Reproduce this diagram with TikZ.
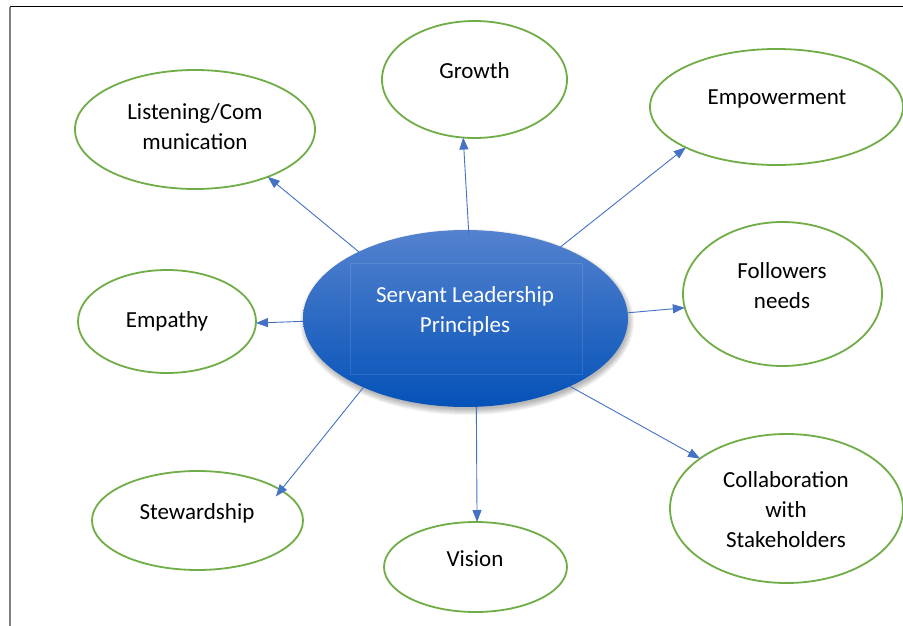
\documentclass[tikz,border=0pt]{standalone}
\usepackage{fontspec}
\setmainfont{Carlito}
\usetikzlibrary{shapes.geometric,arrows.meta}
\definecolor{leafgreen}{RGB}{112,173,71}
\definecolor{linkblue}{RGB}{68,114,196}
\definecolor{hubtop}{RGB}{84,130,207}
\definecolor{hubbottom}{RGB}{4,82,184}
\definecolor{framegray}{RGB}{128,128,128}
\begin{document}
\begin{tikzpicture}[x=1pt,y=-1pt,
  bubble/.style={ellipse, draw=leafgreen, line width=1.8pt, fill=white, inner sep=0pt, outer sep=0pt},
  caption/.style={font=\fontsize{23}{30}\selectfont, align=center, inner sep=0pt, text=black},
  link/.style={draw=linkblue, line width=0.9pt, -{Triangle[length=12pt,width=9pt]}}]
\useasboundingbox (0,0) rectangle (903,626);
\fill[white] (0,0) rectangle (903,626);

% page frame
\draw[black, line width=1pt] (10,7) -- (903,7);
\draw[framegray, line width=1.6pt] (10,7) -- (10,626);

% soft shadow under the hub
\foreach \i in {1,...,7}
  \fill[black, opacity=0.045] (467,322) ellipse [x radius={160pt+\i pt}, y radius={86pt+\i pt}];

% hub
\node[ellipse, minimum width=325pt, minimum height=177pt, inner sep=0pt, outer sep=0pt,
      top color=hubtop, bottom color=hubbottom] (hub) at (465.5,318.5) {};
\draw[white, opacity=0.12, line width=0.6pt] (350,263) rectangle (582,374);
\node[caption, text=white] (hub-t) at (465,311) {Servant Leadership\\Principles};

% principle bubbles
\node[bubble, minimum width=240pt, minimum height=119pt] (listen) at (195,129.5) {};
\node[bubble, minimum width=185pt, minimum height=117pt] (growth) at (474.5,79.5) {};
\node[bubble, minimum width=253pt, minimum height=116pt] (empower) at (776.5,107) {};
\node[bubble, minimum width=199pt, minimum height=144pt] (follow) at (782.5,294) {};
\node[bubble, minimum width=178pt, minimum height=103pt] (empathy) at (167,321.5) {};
\node[bubble, minimum width=211pt, minimum height=99pt] (steward) at (197.5,520.5) {};
\node[bubble, minimum width=183pt, minimum height=90pt] (vision) at (475.5,567) {};
\node[bubble, minimum width=233pt, minimum height=149pt] (collab) at (786.5,508.5) {};

\node[caption] (listen-t) at (195,126.5) {Listening/Com\\munication};
\node[caption] (growth-t) at (474.5,71) {Growth};
\node[caption] (empower-t) at (777,99) {Empowerment};
\node[caption] (follow-t) at (782,286) {Followers\\needs};
\node[caption] (empathy-t) at (167,321) {Empathy};
\node[caption] (steward-t) at (197,513) {Stewardship};
\node[caption] (vision-t) at (475,559) {Vision};
\node[caption] (collab-t) at (786,510) {Collaboration\\with\\Stakeholders};

% connectors
\draw[link] (hub.148.7) -- (listen.-33);
\draw[link, shorten <=-5pt] (hub.88.5) -- (growth.-101);
\draw[link] (hub.37.8) -- (empower.204.6);
\draw[link] (hub.2.3) -- (follow.188.3);
\draw[link] (hub.181.2) -- (empathy.-1);
\draw[link, shorten >=-8pt] (hub.214.1) -- (steward.20.8);
\draw[link] (hub.-83.3) -- (vision.88);
\draw[link] (hub.-33.1) -- (collab.150.6);
\end{tikzpicture}
\end{document}
